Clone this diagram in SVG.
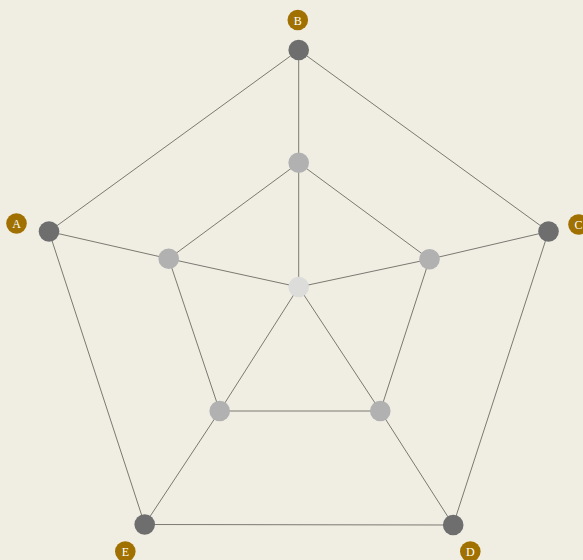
<svg xmlns="http://www.w3.org/2000/svg" width="583" height="560" viewBox="0 0 583 560">
<style>
.e{stroke:#7a7a72;stroke-width:1;fill:none}
.o{fill:#6e6e6e}
.i{fill:#b1b1b1}
.c{fill:#dcdcdb}
.lb{fill:#a07100}
.lt{fill:#ffffff;font-family:"Liberation Serif",serif;font-size:12px;text-anchor:middle;dominant-baseline:central}
</style>
<rect width="583" height="560" fill="#f0ede2"/>
<g id="connectors">
<line class="e" x1="49" y1="231.5" x2="298.7" y2="50"/>
<line class="e" x1="298.7" y1="50" x2="548.5" y2="231.5"/>
<line class="e" x1="548.5" y1="231.5" x2="453.2" y2="525"/>
<line class="e" x1="453.2" y1="525" x2="144.7" y2="524.5"/>
<line class="e" x1="144.7" y1="524.5" x2="49" y2="231.5"/>
<line class="e" x1="298.7" y1="50" x2="298.7" y2="162.8"/>
<line class="e" x1="49" y1="231.5" x2="168.7" y2="258.7"/>
<line class="e" x1="548.5" y1="231.5" x2="429.5" y2="259.2"/>
<line class="e" x1="144.7" y1="524.5" x2="219.7" y2="411"/>
<line class="e" x1="453.2" y1="525" x2="380.3" y2="411"/>
<line class="e" x1="298.7" y1="162.8" x2="168.7" y2="258.7"/>
<line class="e" x1="298.7" y1="162.8" x2="429.5" y2="259.2"/>
<line class="e" x1="168.7" y1="258.7" x2="219.7" y2="411"/>
<line class="e" x1="429.5" y1="259.2" x2="380.3" y2="411"/>
<line class="e" x1="219.7" y1="411" x2="380.3" y2="411"/>
<line class="e" x1="298.7" y1="287" x2="298.7" y2="162.8"/>
<line class="e" x1="298.7" y1="287" x2="168.7" y2="258.7"/>
<line class="e" x1="298.7" y1="287" x2="429.5" y2="259.2"/>
<line class="e" x1="298.7" y1="287" x2="219.7" y2="411"/>
<line class="e" x1="298.7" y1="287" x2="380.3" y2="411"/>
</g>
<g id="node-B"><circle class="o" cx="298.7" cy="50" r="10.3"/><circle class="lb" cx="297.8" cy="20" r="10.3"/><text class="lt" x="297.8" y="20.5">B</text></g>
<g id="node-A"><circle class="o" cx="49" cy="231.5" r="10.3"/><circle class="lb" cx="16.5" cy="223.5" r="10.3"/><text class="lt" x="16.5" y="224">A</text></g>
<g id="node-C"><circle class="o" cx="548.5" cy="231.5" r="10.3"/><circle class="lb" cx="578.5" cy="224.5" r="10.3"/><text class="lt" x="578.5" y="225">C</text></g>
<g id="node-D"><circle class="o" cx="453.2" cy="525" r="10.3"/><circle class="lb" cx="470.3" cy="551.5" r="10.3"/><text class="lt" x="470.3" y="552">D</text></g>
<g id="node-E"><circle class="o" cx="144.7" cy="524.5" r="10.3"/><circle class="lb" cx="125.3" cy="551.5" r="10.3"/><text class="lt" x="125.3" y="552">E</text></g>
<g id="node-i1"><circle class="i" cx="298.7" cy="162.8" r="10.3"/></g>
<g id="node-i2"><circle class="i" cx="168.7" cy="258.7" r="10.3"/></g>
<g id="node-i3"><circle class="i" cx="429.5" cy="259.2" r="10.3"/></g>
<g id="node-i4"><circle class="i" cx="219.7" cy="411" r="10.3"/></g>
<g id="node-i5"><circle class="i" cx="380.3" cy="411" r="10.3"/></g>
<g id="node-center"><circle class="c" cx="298.7" cy="287" r="10.3"/></g>
</svg>
